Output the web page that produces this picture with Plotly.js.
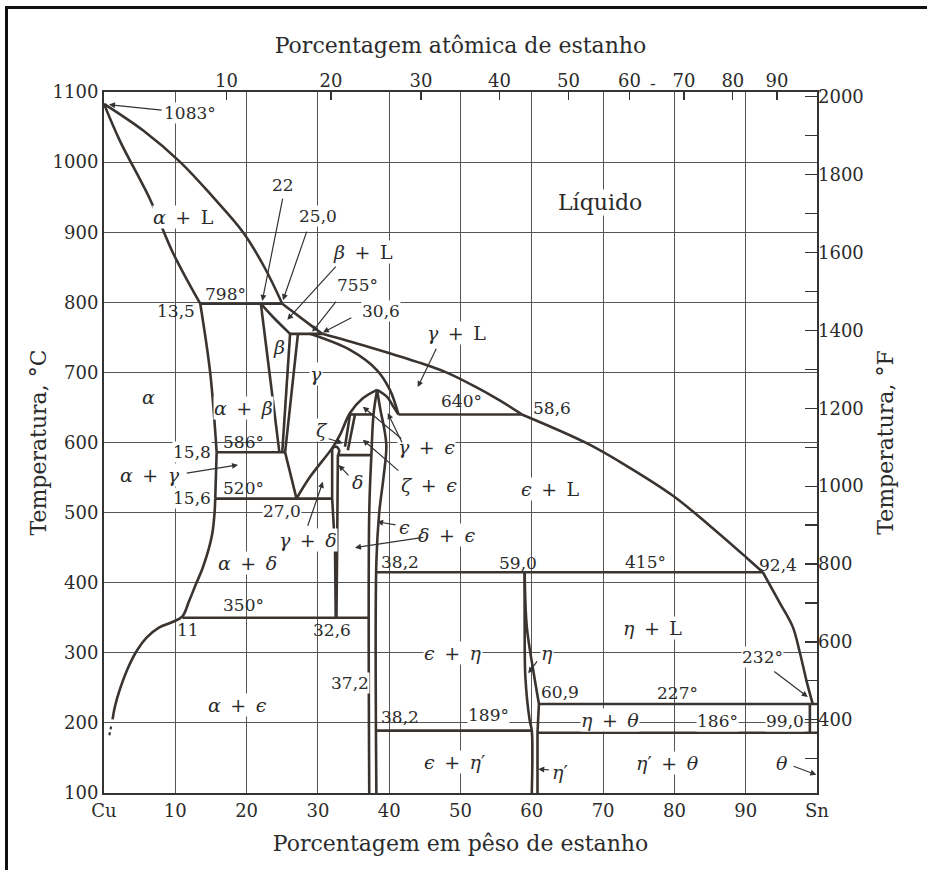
<!DOCTYPE html>
<html>
<head>
<meta charset="utf-8">
<script src="https://cdn.plot.ly/plotly-3.0.1.min.js"></script>
<style>
  html, body { margin: 0; padding: 0; background: #fff; }
  #wrap { position: relative; width: 927px; height: 870px; }
  #chart { width: 927px; height: 870px; }
  #frame { position: absolute; left: 5px; top: 6px; width: 922px; height: 864px;
           border-top: 3px solid #111; border-left: 3px solid #111; pointer-events: none; }
</style>
</head>
<body>
<div id="wrap"><div id="chart"></div><div id="frame"></div></div>
<script>
// ---- Axis ticks -------------------------------------------------------
const wtTicks  = [0, 10, 20, 30, 40, 50, 60, 70, 80, 90, 100];
const wtLabels = ['Cu', '10', '20', '30', '40', '50', '60', '70', '80', '90', 'Sn'];
const atTicks  = [10, 20, 30, 40, 50, 60, 70, 80, 90];
const tempTicksC = [100, 200, 300, 400, 500, 600, 700, 800, 900, 1000, 1100];
const tempTicksF = [300, 400, 500, 600, 700, 800, 900, 1000, 1100, 1200, 1300, 1400, 1500, 1600, 1700, 1800, 1900, 2000];
const tempLabelsF = ['', '400', '', '600', '', '800', '', '1000', '', '1200', '', '1400', '', '1600', '', '1800', '', '2000'];
const rangeWt = [0, 100];
const rangeC = [100, 1100];

// atomic % Sn -> weight % Sn
const M_CU = 63.546, M_SN = 118.71;
const atToWt = a => 100 * a * M_SN / (a * M_SN + (100 - a) * M_CU);
const cToF = c => c * 1.8 + 32;

// ---- Phase boundaries (weight % Sn, temperature °C) -------------------
const liquidusCuW = [0, 5.5, 10.7, 15.3, 19.5, 22.5, 25.0];
const liquidusCuT = [1083, 1045, 1000, 950, 900, 850, 798];
const liquidusBetaW = [25.0, 30.6];
const liquidusBetaT = [798, 755];
const liquidusGammaW = [30.6, 36.9, 43.9, 48.0, 52.0, 55.5, 58.6];
const liquidusGammaT = [755, 737, 715, 700, 680, 660, 640];
const liquidusEpsW = [58.6, 67.7, 73.4, 79.8, 85.0, 90.2, 92.4];
const liquidusEpsT = [640, 599, 566, 524, 481, 435, 415];
const liquidusEtaW = [92.4, 94.8, 96.6, 97.6, 98.6, 99.4];
const liquidusEtaT = [415, 371, 337, 300, 257, 227];

const solidusAlphaW = [0, 2.2, 6.5, 9.7, 13.5];
const solidusAlphaT = [1083, 1031, 946, 870, 798];
const solvusAlphaHighW = [13.5, 14.9, 15.8];
const solvusAlphaHighT = [798, 699, 586];
const solvusAlphaMidW = [15.8, 15.6];
const solvusAlphaMidT = [586, 520];
const solvusAlphaLowW = [15.6, 15.5, 15.2, 14.6, 13.8, 12.9, 11.9, 11.0, 9.6, 7.7, 6.0, 4.6, 3.3, 2.2, 1.5, 1.2];
const solvusAlphaLowT = [520, 499, 471, 445, 420, 398, 373, 352, 344, 336, 322, 303, 277, 247, 222, 205];
const solvusAlphaTailW = [1.0, 0.7];
const solvusAlphaTailT = [195, 180];

const betaLeftW = [22.0, 24.6];          const betaLeftT = [798, 586];
const betaTopW = [22.0, 23.7, 26.1];     const betaTopT = [798, 779, 755];
const betaRightW = [26.1, 25.0];         const betaRightT = [755, 586];
const gammaLeftW = [27.2, 25.4, 27.0];   const gammaLeftT = [755, 586, 520];
const gammaSolidusW = [28.9, 34.5, 38.3, 40.1, 41.3];
const gammaSolidusT = [755, 732, 703, 675, 640];
const gammaDomeLeftW = [27.0, 28.9, 32.0, 33.1, 34.5, 36.3, 38.3];
const gammaDomeLeftT = [520, 551, 592, 611, 642, 663, 675];
const gammaDomeRightW = [38.3, 39.7, 40.6, 41.3];
const gammaDomeRightT = [675, 665, 651, 640];
const zetaLeftW = [34.5, 33.8];   const zetaLeftT = [640, 594];
const zetaRightW = [35.2, 34.2];  const zetaRightT = [640, 589];
const deltaCapW = [32.0, 32.6, 33.0, 32.8];  const deltaCapT = [592, 594, 588, 582];
const deltaLeftW = [32.0, 32.0, 32.4, 32.5]; const deltaLeftT = [592, 520, 450, 350];
const deltaRightW = [32.8, 32.8, 32.7, 32.6]; const deltaRightT = [582, 520, 450, 350];
const epsLeftW = [38.3, 37.8, 37.5, 37.2, 37.2];       const epsLeftT = [675, 640, 582, 500, 100];
const epsRightW = [38.3, 38.8, 39.3, 39.6, 39.2, 38.6, 38.2, 38.2];
const epsRightT = [675, 645, 620, 594, 550, 500, 430, 100];
const etaLeftW = [59.0, 59.0, 59.1, 59.7, 60.0, 60.0]; const etaLeftT = [415, 337, 265, 204, 189, 100];
const etaRightW = [59.0, 59.3, 60.2, 60.9, 61.0];      const etaRightT = [415, 337, 275, 233, 227];
const etaPrimeW = [61.0, 60.8, 60.8];                  const etaPrimeT = [227, 186, 100];
const theta99W = [99.0, 99.0];                         const theta99T = [186, 227];

// invariant (horizontal) lines: [from wt%, to wt%, temperature]
const isoFrom = [13.5, 26.1, 15.8, 15.6, 41.3, 34.5, 32.8, 11.0, 38.2, 38.2, 61.0, 60.8];
const isoTo   = [25.0, 30.6, 25.4, 32.0, 58.6, 37.8, 37.5, 37.2, 92.4, 60.0, 100, 100];
const isoTemp = [798, 755, 586, 520, 640, 640, 582, 350, 415, 189, 227, 186];

const LINE = '#3a3431';
const curves = [
  [liquidusCuW, liquidusCuT, 'spline'],
  [liquidusBetaW, liquidusBetaT, 'linear'],
  [liquidusGammaW, liquidusGammaT, 'spline'],
  [liquidusEpsW, liquidusEpsT, 'spline'],
  [liquidusEtaW, liquidusEtaT, 'spline'],
  [solidusAlphaW, solidusAlphaT, 'spline'],
  [solvusAlphaHighW, solvusAlphaHighT, 'spline'],
  [solvusAlphaMidW, solvusAlphaMidT, 'linear'],
  [solvusAlphaLowW, solvusAlphaLowT, 'spline'],
  [betaLeftW, betaLeftT, 'linear'],
  [betaTopW, betaTopT, 'spline'],
  [betaRightW, betaRightT, 'linear'],
  [gammaLeftW, gammaLeftT, 'linear'],
  [gammaSolidusW, gammaSolidusT, 'spline'],
  [gammaDomeLeftW, gammaDomeLeftT, 'spline'],
  [gammaDomeRightW, gammaDomeRightT, 'spline'],
  [zetaLeftW, zetaLeftT, 'linear'],
  [zetaRightW, zetaRightT, 'linear'],
  [deltaCapW, deltaCapT, 'spline'],
  [deltaLeftW, deltaLeftT, 'linear'],
  [deltaRightW, deltaRightT, 'linear'],
  [epsLeftW, epsLeftT, 'spline'],
  [epsRightW, epsRightT, 'spline'],
  [etaLeftW, etaLeftT, 'spline'],
  [etaRightW, etaRightT, 'spline'],
  [etaPrimeW, etaPrimeT, 'linear'],
  [theta99W, theta99T, 'linear']
];

const traces = curves.map(([w, t, shape]) => ({
  x: w, y: t, type: 'scatter', mode: 'lines', hoverinfo: 'skip',
  line: { color: LINE, width: 2.6, shape: shape, smoothing: 1 }
}));
isoTemp.forEach((t, i) => traces.push({
  x: [isoFrom[i], isoTo[i]], y: [t, t], type: 'scatter', mode: 'lines', hoverinfo: 'skip',
  line: { color: LINE, width: 2.6 }
}));
traces.push({
  x: solvusAlphaTailW, y: solvusAlphaTailT, type: 'scatter', mode: 'lines', hoverinfo: 'skip',
  line: { color: LINE, width: 2.2, dash: 'dot' }
});
// empty carrier so the atomic-% and °F axes are drawn
traces.push({
  x: rangeWt, y: rangeC.map(cToF), xaxis: 'x2', yaxis: 'y2', type: 'scatter',
  mode: 'markers', marker: { opacity: 0 }, hoverinfo: 'skip'
});

// ---- Region and value labels: [text, wt%, °C, white background, size] --
const SP = '\u2002';
const plus = (a, b) => a + SP + '+' + SP + b;
const labels = [
  ['1083°', 12.1, 1070, true, 17], ['22', 25.1, 967, true, 17], ['25,0', 30.0, 923, true, 17],
  [plus('<i>α</i>', 'L'), 11.1, 922, true, 19], [plus('<i>β</i>', 'L'), 36.3, 872, true, 19],
  ['755°', 35.6, 825, true, 17], ['30,6', 38.9, 788, true, 17],
  ['798°', 17.0, 812, false, 17], ['13,5', 10.1, 788, false, 17],
  ['<i>β</i>', 24.5, 736, false, 19], ['<i>γ</i>', 29.7, 698, true, 19], ['<i>α</i>', 6.3, 665, true, 19],
  [plus('<i>α</i>', '<i>β</i>'), 19.5, 649, true, 19], ['586°', 19.5, 601, false, 17], ['15,8', 12.3, 586, true, 17],
  [plus('<i>α</i>', '<i>γ</i>'), 6.5, 554, true, 19], ['520°', 19.5, 535, false, 17], ['15,6', 12.3, 521, true, 17],
  ['27,0', 25.0, 502, true, 17], [plus('<i>γ</i>', '<i>δ</i>'), 28.6, 461, true, 19], [plus('<i>α</i>', '<i>δ</i>'), 20.1, 428, true, 19],
  ['350°', 19.5, 368, false, 17], ['11', 11.8, 333, false, 17], ['32,6', 32.0, 333, false, 17],
  ['37,2', 34.5, 257, true, 17], [plus('<i>α</i>', '<i>ϵ</i>'), 18.7, 226, true, 19],
  ['38,2', 41.5, 430, false, 17], ['38,2', 41.5, 208, false, 17],
  [plus('<i>ϵ</i>', '<i>η</i>'), 48.9, 300, true, 19], [plus('<i>ϵ</i>', '<i>η</i>′'), 49.2, 144, true, 19],
  ['Líquido', 69.6, 943, true, 22], [plus('<i>γ</i>', 'L'), 49.5, 756, true, 19],
  ['640°', 50.2, 659, false, 17], ['58,6', 62.8, 649, false, 17], [plus('<i>ϵ</i>', 'L'), 62.6, 534, true, 19],
  ['59,0', 58.1, 428, false, 17], ['415°', 75.9, 430, false, 17], ['92,4', 94.5, 425, false, 17],
  [plus('<i>η</i>', 'L'), 76.9, 335, true, 19], ['<i>η</i>', 62.1, 300, true, 19], ['232°', 92.3, 294, true, 17],
  ['60,9', 64.0, 244, false, 17], ['227°', 80.5, 243, false, 17], ['189°', 53.9, 211, true, 17],
  [plus('<i>η</i>', '<i>θ</i>'), 71.0, 204, true, 19], ['186°', 86.0, 203, true, 17], ['99,0', 95.5, 203, true, 17],
  ['<i>η</i>′', 64.0, 130, true, 19], [plus('<i>η</i>′', '<i>θ</i>'), 79.0, 143, true, 19], ['<i>θ</i>', 95.1, 143, true, 19],
  ['<i>ϵ</i>', 42.2, 479, true, 19], [plus('<i>δ</i>', '<i>ϵ</i>'), 48.0, 468, true, 19],
  ['<i>ζ</i>', 30.6, 618, true, 19], ['<i>δ</i>', 35.6, 544, true, 19],
  [plus('<i>γ</i>', '<i>ϵ</i>'), 45.2, 594, true, 19], [plus('<i>ζ</i>', '<i>ϵ</i>'), 45.6, 540, true, 19]
];

// ---- Leader arrows: [tail wt%, tail °C, tip wt%, tip °C] -------------
const arrows = [
  [8.3, 1074, 0.7, 1082], [25.1, 950, 22.2, 802], [28.5, 903, 25.1, 803],
  [32.7, 853, 25.7, 775], [32.7, 803, 29.2, 758], [34.9, 779, 30.7, 757],
  [11.4, 556, 18.8, 568], [28.5, 479, 30.7, 544], [46.7, 736, 44.0, 679],
  [60.9, 290, 59.5, 271], [93.8, 275, 98.7, 237], [62.6, 133, 60.9, 134],
  [96.5, 139, 99.9, 126], [41.1, 482, 38.3, 487], [45.0, 465, 35.2, 450],
  [31.3, 606, 33.5, 599], [34.5, 551, 32.9, 568], [41.9, 604, 36.3, 651],
  [41.9, 598, 39.8, 642], [41.5, 558, 36.3, 604]
];

const annotations = labels.map(([text, x, y, bg, size]) => ({
  text: text, x: x, y: y, xref: 'x', yref: 'y', showarrow: false,
  xanchor: 'center', yanchor: 'middle', borderpad: 0, font: { size: size },
  bgcolor: bg ? '#ffffff' : 'rgba(0,0,0,0)'
}));
arrows.forEach(([ax, ay, x, y]) => annotations.push({
  text: '', x: x, y: y, ax: ax, ay: ay, xref: 'x', yref: 'y', axref: 'x', ayref: 'y',
  showarrow: true, arrowhead: 2, arrowsize: 1, arrowwidth: 1.2, arrowcolor: '#333', standoff: 0
}));
annotations.push({ text: '-', x: 77.0, y: 1.03, xref: 'x', yref: 'paper', showarrow: false, font: { size: 17 } });

const font = { family: 'DejaVu Serif, serif', size: 18, color: '#2b2b2b' };
const layout = {
  width: 927, height: 870,
  margin: { l: 104, r: 110, t: 92, b: 77 },
  paper_bgcolor: '#ffffff', plot_bgcolor: '#ffffff',
  showlegend: false, font: font,
  xaxis: {
    range: rangeWt, tickvals: wtTicks, ticktext: wtLabels, ticks: '',
    showgrid: true, gridcolor: '#555555', gridwidth: 1, zeroline: false,
    showline: true, linecolor: '#333', linewidth: 2, mirror: true,
    title: { text: 'Porcentagem em pêso de estanho', font: { size: 22 }, standoff: 16 }
  },
  xaxis2: {
    overlaying: 'x', side: 'top', range: rangeWt,
    tickvals: atTicks.map(atToWt), ticktext: atTicks.map(String),
    ticks: 'inside', ticklen: 8, tickwidth: 1.2, tickcolor: '#333',
    showgrid: false, zeroline: false, showline: false,
    title: { text: 'Porcentagem atômica de estanho', font: { size: 22 }, standoff: 10 }
  },
  yaxis: {
    range: rangeC, tickvals: tempTicksC, ticks: '',
    showgrid: true, gridcolor: '#555555', gridwidth: 1, zeroline: false,
    showline: true, linecolor: '#333', linewidth: 2, mirror: true,
    title: { text: 'Temperatura, °C', font: { size: 22 }, standoff: 0 }
  },
  yaxis2: {
    overlaying: 'y', side: 'right', range: rangeC.map(cToF),
    tickvals: tempTicksF, ticktext: tempLabelsF,
    ticks: 'inside', ticklen: 12, tickwidth: 1.2, tickcolor: '#333',
    showgrid: false, zeroline: false, showline: false,
    title: { text: 'Temperatura, °F', font: { size: 22 }, standoff: 14 }
  },
  annotations: annotations
};

Plotly.newPlot('chart', traces, layout, { staticPlot: true, displayModeBar: false });
</script>
</body>
</html>
